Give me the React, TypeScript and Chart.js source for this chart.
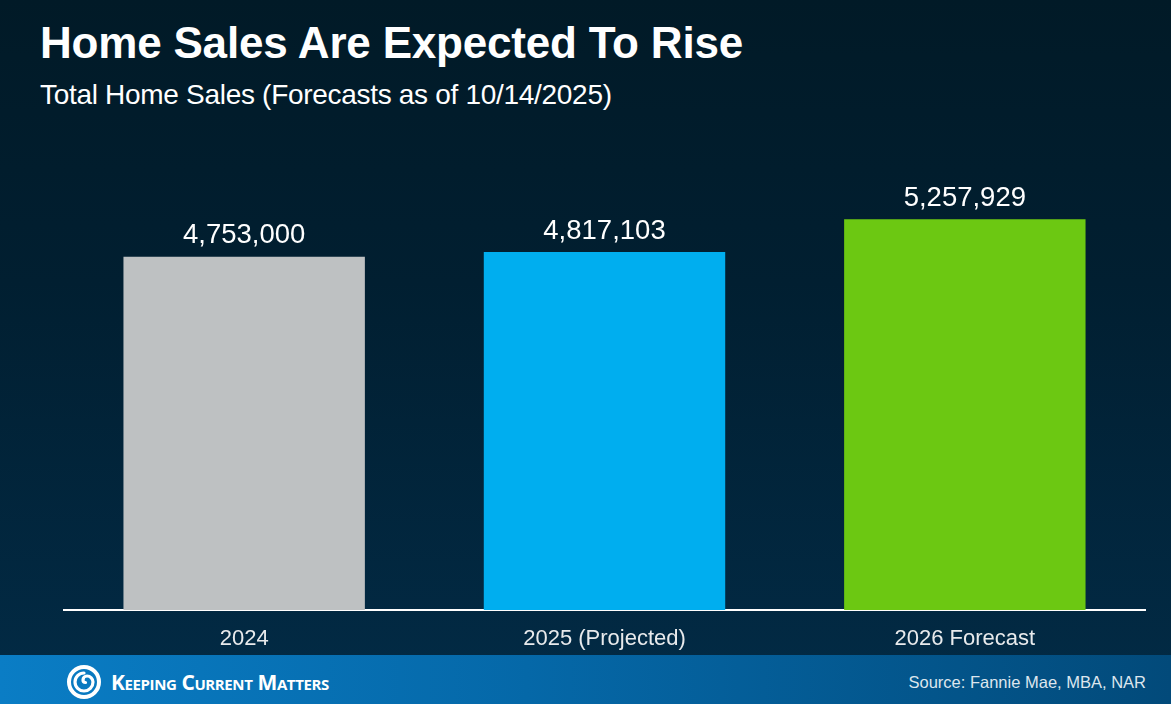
import React, { useEffect, useRef } from "react";
import { Chart, registerables } from "chart.js";

Chart.register(...registerables);

const categories = ["2024", "2025 (Projected)", "2026 Forecast"];
const homeSales = [4753000, 4817103, 5257929];
const barColors = ["#bec1c2", "#00aeef", "#6cc812"];

const FONT = "'Liberation Sans', Arial, Helvetica, sans-serif";

const valueLabels = {
  id: "valueLabels",
  afterDatasetsDraw(chart: any) {
    const ctx = chart.ctx;
    const meta = chart.getDatasetMeta(0);
    ctx.save();
    ctx.font = `27.5px ${FONT}`;
    ctx.fillStyle = "#ffffff";
    ctx.textAlign = "center";
    ctx.textBaseline = "middle";
    meta.data.forEach((bar: any, i: number) => {
      const v = chart.data.datasets[0].data[i] as number;
      ctx.fillText(v.toLocaleString("en-US"), bar.x, bar.y - 21);
    });
    ctx.restore();
  },
};

function BarChart() {
  const ref = useRef<HTMLCanvasElement | null>(null);
  useEffect(() => {
    if (!ref.current) return;
    const chart = new Chart(ref.current, {
      type: "bar",
      data: {
        labels: categories,
        datasets: [
          {
            data: homeSales,
            backgroundColor: barColors,
            borderWidth: 0,
            barPercentage: 0.67,
            categoryPercentage: 1,
          },
        ],
      },
      options: {
        animation: false,
        responsive: false,
        maintainAspectRatio: false,
        layout: { padding: { left: 64, right: 26, top: 34, bottom: 0 } },
        plugins: {
          legend: { display: false },
          tooltip: { enabled: false },
          title: { display: false },
        },
        scales: {
          x: {
            grid: { display: false, drawTicks: false },
            border: { display: true, color: "#ffffff", width: 2 },
            ticks: {
              color: "#e8eaec",
              font: { family: FONT, size: 22 },
              padding: 16,
            },
            afterFit(scale: any) {
              scale.height = 45;
            },
          },
          y: {
            display: false,
            min: 0,
            max: 6000000,
          },
        },
      },
      plugins: [valueLabels],
    });
    return () => chart.destroy();
  }, []);
  return (
    <canvas
      ref={ref}
      width={1171}
      height={525}
      style={{ position: "absolute", left: 0, top: 130, width: 1171, height: 525 }}
    />
  );
}

export default function App() {
  return (
    <div
      style={{
        position: "fixed",
        left: 0,
        top: 0,
        width: 1171,
        height: 704,
        overflow: "hidden",
        fontFamily: FONT,
        background: "linear-gradient(180deg, #011a27 0%, #011f31 40%, #022b46 100%)",
      }}
    >
      <div
        style={{
          position: "absolute",
          left: 40,
          top: 18,
          fontSize: 44,
          fontWeight: 700,
          color: "#ffffff",
          whiteSpace: "nowrap",
          letterSpacing: -0.2,
        }}
      >
        Home Sales Are Expected To Rise
      </div>
      <div
        style={{
          position: "absolute",
          left: 40,
          top: 79,
          fontSize: 28,
          color: "#ffffff",
          whiteSpace: "nowrap",
          letterSpacing: -0.3,
        }}
      >
        Total Home Sales (Forecasts as of 10/14/2025)
      </div>
      <BarChart />
      <div
        style={{
          position: "absolute",
          left: 0,
          top: 655,
          width: 1171,
          height: 49,
          background: "linear-gradient(90deg, #0a7dc5 0%, #0568a8 45%, #024a7a 100%)",
        }}
      >
        <svg
          width={36}
          height={36}
          viewBox="0 0 36 36"
          style={{ position: "absolute", left: 66, top: 9 }}
        >
          <circle cx={18} cy={18} r={15} fill="none" stroke="#ffffff" strokeWidth={4} />
          <path
            d="M18 9 A9 9 0 1 0 27 18 A6 6 0 0 0 21 12 A4 4 0 0 0 17 16 A2.5 2.5 0 0 0 19.5 18.5"
            fill="none"
            stroke="#ffffff"
            strokeWidth={3.2}
            strokeLinecap="round"
          />
        </svg>
        <div
          style={{
            position: "absolute",
            left: 111,
            top: 13,
            fontSize: 21,
            fontWeight: 700,
            fontVariant: "small-caps",
            color: "#ffffff",
            whiteSpace: "nowrap",
            letterSpacing: -0.4,
            fontFamily: "'Open Sans', 'Liberation Sans', sans-serif",
          }}
        >
          Keeping Current Matters
        </div>
        <div
          style={{
            position: "absolute",
            right: 25,
            top: 18,
            fontSize: 16.5,
            color: "#dde6ee",
            whiteSpace: "nowrap",
          }}
        >
          Source: Fannie Mae, MBA, NAR
        </div>
      </div>
    </div>
  );
}
